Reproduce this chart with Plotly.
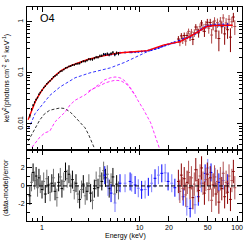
import plotly.graph_objects as go

# ---------------- data ----------------
E_black = [0.75,0.78,0.81,0.84,0.87,0.90,0.93,0.96,1.0,
           1.04,1.08,1.12,1.16,1.21,1.26,1.31,1.36,1.42,1.48,1.54,
           1.60,1.67,1.74,1.81,1.89,1.97,2.05,2.14,2.23,2.33,
           2.43,2.54,2.65,2.77,2.89,3.02,3.15,3.29,3.44,
           3.59,3.75,3.92,4.10,4.28,4.47,4.67,4.88,5.10,5.33,5.57,5.82,6.08]
F_black = [0.0145,0.0193,0.0232,0.0265,0.0300,0.0328,0.0380,0.0413,0.0455,
           0.0515,0.0550,0.0612,0.0652,0.0700,0.0765,0.0835,0.0870,0.0915,0.0997,0.107,
           0.109,0.116,0.124,0.127,0.134,0.136,0.142,0.143,0.150,0.151,
           0.153,0.163,0.169,0.168,0.175,0.186,0.184,0.183,0.194,
           0.203,0.202,0.215,0.217,0.232,0.229,0.237,0.226,0.238,0.252,0.228,0.246,0.238]
Ferr_black = [0.0012,0.0012,0.0013,0.0013,0.0014,0.0014,0.0015,0.0016,0.0017,
              0.0018,0.002,0.0021,0.0023,0.0025,0.0027,0.0029,0.0031,0.0033,0.0035,0.0037,
              0.0040,0.0043,0.0046,0.0049,0.0052,0.0055,0.0058,0.0062,0.0066,0.007,
              0.0074,0.0078,0.0082,0.0087,0.0092,0.0097,0.010,0.0105,0.011,
              0.0115,0.012,0.0125,0.013,0.0135,0.014,0.0145,0.015,0.0155,0.016,0.0165,0.017,0.0175]
R_black = [-1.1,0.4,1.5,0.6,1.1,-0.2,0.9,0.2,-0.4,
           0.5,-0.9,0.8,0.1,-0.7,0.3,0.9,-0.6,-1.3,0.4,1.0,
           -0.3,0.5,1.6,0.8,1.3,0.2,0.7,-0.5,0.3,-0.9,
           -1.5,-0.4,0.2,-1.1,-0.6,0.3,-0.8,-1.6,-0.3,
           0.6,-0.2,1.1,0.5,1.7,0.9,1.3,-0.3,0.4,1.0,-0.9,0.2,-0.5]

E_blue = [4.4,4.75,5.1,5.6,6.3,7.1,8.0,8.3,9.0,9.7,10.5,11.4,12.3,13.3,14.4,15.6,16.9,18.3,19.6,
          21.4,23.0,25.5,28.0,30.5,33.0,37.0,40.0,43.0,47.0,50.0,54.0,59.5,65.0,72.0,80.0]
F_blue = [0.226,0.227,0.231,0.232,0.247,0.251,0.254,0.254,0.256,0.258,0.262,0.266,0.273,0.282,0.294,
          0.307,0.327,0.348,0.362,0.382,0.399,0.425,0.460,0.482,0.508,0.580,0.650,0.713,0.790,0.826,
          0.850,0.865,0.864,0.867,0.862]
Ferr_blue = [0.012,0.012,0.012,0.013,0.012,0.012,0.012,0.012,0.012,0.012,0.012,0.012,0.012,0.013,0.013,
             0.014,0.015,0.016,0.017,0.018,0.019,0.021,0.023,0.025,0.027,0.031,0.035,0.039,0.044,0.048,
             0.053,0.058,0.064,0.070,0.078]
R_blue = [1.2,-0.1,-0.8,-1.9,0.3,0.3,0.5,0.37,0.1,-0.26,-0.44,-0.4,-0.1,0.3,0.85,1.2,1.4,1.45,0.5,
          0.3,-0.2,-0.6,-1.2,-2.3,-2.5,-2.1,-1.2,0.3,1.4,2.0,1.5,1.0,0.4,0.6,0.3]

E_red = [25.0,25.9,26.8,27.7,28.7,29.7,30.7,31.8,32.9,34.0,35.2,36.4,37.7,39.0,40.3,41.7,43.2,44.7,46.2,47.8,
         49.5,51.2,53.0,54.8,56.7,58.7,60.7,62.8,65.0,67.3,69.6,72.0,74.5,77.1,79.8,82.6,85.4,88.4,91.5,94.7]
F_red = [0.46,0.40,0.53,0.44,0.54,0.42,0.54,0.65,0.51,0.63,0.45,0.61,0.79,0.70,0.61,0.80,0.95,0.77,0.65,0.88,
         0.98,0.75,0.97,0.55,0.86,1.04,0.66,0.96,0.47,1.03,0.80,1.19,0.58,0.95,0.70,1.12,0.50,1.00,1.24,0.81]
Ferr_red = [0.065,0.067,0.07,0.073,0.076,0.08,0.083,0.087,0.09,0.095,0.10,0.105,0.11,0.115,0.12,0.125,0.13,0.14,0.145,0.15,
            0.16,0.165,0.17,0.175,0.18,0.19,0.195,0.2,0.205,0.21,0.215,0.22,0.225,0.23,0.235,0.24,0.245,0.25,0.255,0.26]
R_red = [0.5,-0.6,1.2,-0.3,0.8,-1.0,0.4,1.5,-0.2,0.9,-1.3,0.2,1.8,0.6,-0.5,1.1,2.0,0.3,-0.8,0.7,
         1.3,-0.4,0.9,-1.6,0.1,1.0,-0.9,0.5,-1.8,0.8,-0.3,1.4,-1.2,0.4,-0.7,1.1,-1.5,0.6,1.6,-0.2]
Rerr_red = [1.3,1.3,1.3,1.3,1.3,1.3,1.3,1.3,1.3,1.3,1.3,1.3,1.3,1.3,1.3,1.3,1.3,1.3,1.3,1.3,
            1.3,1.3,1.3,1.3,1.3,1.3,1.3,1.3,1.3,1.3,1.3,1.3,1.3,1.3,1.3,1.3,1.3,1.3,1.3,1.3]

# model curves
E_total = [0.72,0.75,0.80,0.85,0.90,1.0,1.1,1.2,1.4,1.6,2.0,2.5,3.0,4.0,5.0,6.0,7.0,8.0,10,12,
           17.5,26,33,40,49,60,70,80,90]
F_total = [0.012,0.015,0.021,0.027,0.033,0.046,0.058,0.070,0.093,0.113,0.140,0.163,0.185,0.210,0.232,0.245,
           0.250,0.254,0.262,0.272,0.35,0.41,0.52,0.65,0.81,0.85,0.86,0.86,0.855]
E_pl = [0.72,0.75,0.85,1.0,1.07,1.2,1.53,2.18,3.1,5.0,7.0,9.0,12,16,20,26,33,40,49,60,90]
F_pl = [0.0080,0.0091,0.016,0.024,0.027,0.036,0.053,0.080,0.100,0.125,0.160,0.200,0.260,0.310,0.360,
        0.410,0.520,0.640,0.810,0.850,0.860]
E_refl = [0.79,0.95,1.07,1.2,1.36,1.72,1.94,2.18,2.76,3.5,3.93,4.4,5.0,5.6,6.0,6.5,7.1,8.0,9.0,9.4,11,13,16]
F_refl = [0.0035,0.0055,0.0067,0.0072,0.011,0.017,0.0236,0.029,0.037,0.053,0.064,0.073,0.080,0.083,0.082,
          0.078,0.069,0.052,0.037,0.031,0.019,0.0105,0.0033]
E_refl2 = [3.0,3.5,4.0,4.5,5.0,5.5,6.0,6.5,7.0,7.5,8.0,9.0]
F_refl2 = [0.044,0.051,0.058,0.064,0.068,0.071,0.071,0.069,0.064,0.058,0.050,0.036]
E_bb = [0.72,0.75,0.85,0.95,1.07,1.2,1.36,1.53,1.72,1.95,2.18,2.45,2.76,3.0,3.25,3.45]
F_bb = [0.0046,0.0053,0.0084,0.012,0.016,0.0185,0.0196,0.0205,0.0200,0.0170,0.0137,0.0110,0.0084,0.0062,
        0.0045,0.0033]

x_labeled = [1, 10, 20, 50, 100]
x_labeled_text = ["1", "10", "20", "50", "100"]
x_minor = [0.8, 0.9, 2, 3, 4, 5, 6, 7, 8, 9, 30, 40, 60, 70, 80, 90]
y_top_major = [0.01, 0.1, 1]
y_top_text = ["0.01", "0.1", "1"]
y_top_minor = [0.004,0.005,0.006,0.007,0.008,0.009,0.02,0.03,0.04,0.05,0.06,0.07,0.08,0.09,
               0.2,0.3,0.4,0.5,0.6,0.7,0.8,0.9]
y_bot_major = [-2, 0, 2]
y_bot_text = ["-2", "0", "2"]
y_bot_minor = [-3, -1, 1, 3]

FONT = "Liberation Sans, Arial, sans-serif"

fig = go.Figure()

def errtrace(x, y, err, color, xa, ya, size=2):
    return go.Scatter(x=x, y=y, mode="markers", xaxis=xa, yaxis=ya,
                      marker=dict(color=color, size=size, symbol="line-ew-open",
                                  line=dict(color=color, width=1)),
                      error_y=dict(type="data", array=err, color=color, thickness=1, width=0),
                      showlegend=False, hoverinfo="skip")

# ---- top panel ----
fig.add_trace(go.Scatter(x=E_bb, y=F_bb, mode="lines", line=dict(color="black", width=0.8, dash="3px,2px"),
                         xaxis="x", yaxis="y", showlegend=False, hoverinfo="skip"))
fig.add_trace(go.Scatter(x=E_refl, y=F_refl, mode="lines", line=dict(color="#ff00ff", width=0.8, dash="3px,2px"),
                         xaxis="x", yaxis="y", showlegend=False, hoverinfo="skip"))
fig.add_trace(go.Scatter(x=E_refl2, y=F_refl2, mode="lines", line=dict(color="#ff00ff", width=0.8, dash="3px,2px"),
                         xaxis="x", yaxis="y", showlegend=False, hoverinfo="skip"))
fig.add_trace(go.Scatter(x=E_pl, y=F_pl, mode="lines", line=dict(color="#0000ff", width=0.8, dash="3px,2px"),
                         xaxis="x", yaxis="y", showlegend=False, hoverinfo="skip"))
fig.add_trace(errtrace(E_red[0::2], F_red[0::2], Ferr_red[0::2], "#8b0000", "x", "y"))
fig.add_trace(errtrace(E_red[1::2], F_red[1::2], Ferr_red[1::2], "#b04545", "x", "y"))
fig.add_trace(errtrace(E_blue, F_blue, Ferr_blue, "#0000ff", "x", "y"))
fig.add_trace(go.Scatter(x=E_total, y=F_total, mode="lines", line=dict(color="#ff0000", width=1.4),
                         xaxis="x", yaxis="y", showlegend=False, hoverinfo="skip"))
fig.add_trace(errtrace(E_black, F_black, Ferr_black, "black", "x", "y", size=1))

# ---- bottom panel ----
fig.add_trace(errtrace(E_black[0::2], R_black[0::2], [1.0]*len(R_black[0::2]), "black", "x2", "y2"))
fig.add_trace(errtrace(E_black[1::2], R_black[1::2], [1.0]*len(R_black[1::2]), "#707070", "x2", "y2"))
fig.add_trace(errtrace(E_blue[0::2], R_blue[0::2], [1.0]*len(R_blue[0::2]), "#0000ff", "x2", "y2"))
fig.add_trace(errtrace(E_blue[1::2], R_blue[1::2], [1.0]*len(R_blue[1::2]), "#7878ff", "x2", "y2"))
fig.add_trace(errtrace(E_red[0::2], R_red[0::2], Rerr_red[0::2], "#8b0000", "x2", "y2"))
fig.add_trace(errtrace(E_red[1::2], R_red[1::2], Rerr_red[1::2], "#b05050", "x2", "y2"))

fig.add_shape(type="line", xref="paper", x0=0, x1=1, yref="y2", y0=0, y1=0,
              line=dict(color="black", width=1, dash="4px,2px"))

axis_common = dict(showline=True, linecolor="black", linewidth=1, mirror="ticks",
                   ticks="inside", ticklen=5, tickcolor="black", tickwidth=1,
                   showgrid=False, zeroline=False,
                   tickfont=dict(family=FONT, size=7, color="black"))

fig.update_layout(
    width=249, height=249,
    margin=dict(l=27, r=7, t=7, b=28),
    paper_bgcolor="white", plot_bgcolor="white",
    font=dict(family=FONT, size=7, color="black"),
    hovermode=False,
    xaxis=dict(type="log", range=[-0.154, 2.05], domain=[0, 1], anchor="y",
               tickvals=x_labeled, ticktext=x_labeled_text, showticklabels=False,
               minor=dict(tickvals=x_minor, ticks="inside", ticklen=3, tickcolor="black"),
               **axis_common),
    yaxis=dict(type="log", range=[-2.51, 0.29], domain=[0.332, 1], anchor="x",
               tickvals=y_top_major, ticktext=y_top_text, tickangle=-90,
               minor=dict(tickvals=y_top_minor, ticks="inside", ticklen=3, tickcolor="black"),
               **axis_common),
    xaxis2=dict(type="log", range=[-0.154, 2.05], domain=[0, 1], anchor="y2",
                tickvals=x_labeled, ticktext=x_labeled_text,
                minor=dict(tickvals=x_minor, ticks="inside", ticklen=3, tickcolor="black"),
                **axis_common),
    yaxis2=dict(range=[-3.9, 4], domain=[0, 0.332], anchor="x2",
                tickvals=y_bot_major, ticktext=y_bot_text,
                minor=dict(tickvals=y_bot_minor, ticks="inside", ticklen=3, tickcolor="black"),
                **axis_common),
    annotations=[
        dict(text="O4", xref="paper", yref="paper", x=0.051, y=0.949, xanchor="left", yanchor="middle",
             showarrow=False, font=dict(family=FONT, size=11, color="black")),
        dict(text="Energy (keV)", xref="paper", yref="paper", x=0.456, y=-0.072, xanchor="center",
             yanchor="middle", showarrow=False, font=dict(family=FONT, size=7, color="black")),
        dict(text="keV<sup>2</sup>(photons cm<sup>-2</sup> s<sup>-1</sup> keV<sup>-1</sup>)",
             xref="paper", yref="paper", x=-0.097, y=0.668, xanchor="center", yanchor="middle",
             textangle=-90, showarrow=False, font=dict(family=FONT, size=7, color="black")),
        dict(text="(data-model)/error", xref="paper", yref="paper", x=-0.097, y=0.154,
             xanchor="center", yanchor="middle", textangle=-90, showarrow=False,
             font=dict(family=FONT, size=7, color="black")),
    ],
)

fig.write_html("out.html", config={"displayModeBar": False, "staticPlot": True},
               post_script="document.body.style.margin='0px';document.body.style.padding='0px';")
